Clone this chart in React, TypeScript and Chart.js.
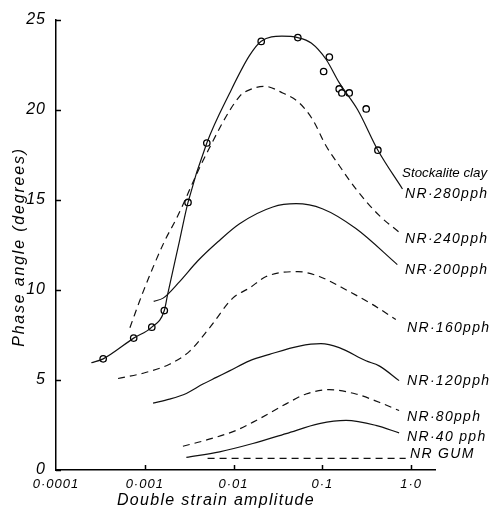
import React, { useEffect, useRef } from "react";
import { Chart, registerables } from "chart.js";

Chart.register(...registerables);

// Axis ticks
const xTickValues = [0.0001, 0.001, 0.01, 0.1, 1];
const xTickLabels = ["0·0001", "0·001", "0·01", "0·1", "1·0"];
const yTickValues = [0, 5, 10, 15, 20, 25];

// Stockalite clay measured points
const clayPointX = [0.00034, 0.00075, 0.0012, 0.00166, 0.00307, 0.005, 0.0205, 0.053, 0.12, 0.1035, 0.155, 0.166, 0.201, 0.312, 0.423];
const clayPointY = [6.17, 7.32, 7.93, 8.85, 14.85, 18.15, 23.79, 24.0, 22.92, 22.12, 21.15, 20.93, 20.93, 20.04, 17.75];

// Stockalite clay NR 280 pph curve (solid)
const clayLineX = [0.00025, 0.00034, 0.00075, 0.0012, 0.00166, 0.00181, 0.00247, 0.00307, 0.005, 0.009, 0.0151, 0.0205, 0.035, 0.053, 0.075, 0.11, 0.155, 0.25, 0.423, 0.8];
const clayLineY = [5.95, 6.17, 7.32, 7.93, 8.85, 9.75, 12.75, 14.85, 18.15, 20.9, 23.0, 23.8, 24.08, 24.0, 23.7, 22.8, 21.5, 20.0, 17.75, 15.6];

// NR 240 pph (dashed)
const nr240X = [0.00068, 0.00096, 0.00166, 0.00227, 0.00472, 0.0117, 0.0151, 0.0223, 0.0358, 0.0552, 0.0778, 0.11, 0.155, 0.239, 0.437, 0.733];
const nr240Y = [7.9, 9.9, 12.67, 13.95, 17.35, 20.74, 21.1, 21.3, 20.93, 20.37, 19.45, 18.0, 16.9, 15.6, 14.13, 13.2];

// NR 200 pph (solid)
const nr200X = [0.00126, 0.00161, 0.00247, 0.00394, 0.00667, 0.0117, 0.0277, 0.0506, 0.1, 0.239, 0.7];
const nr200Y = [9.36, 9.54, 10.46, 11.6, 12.67, 13.67, 14.6, 14.78, 14.5, 13.4, 11.4];

// NR 160 pph (dashed)
const nr160X = [0.0005, 0.001, 0.0019, 0.00321, 0.00537, 0.0098, 0.0151, 0.0233, 0.0529, 0.0925, 0.2, 0.37, 0.673];
const nr160Y = [5.08, 5.4, 5.87, 6.6, 7.89, 9.54, 10.1, 10.74, 11.01, 10.74, 9.91, 9.18, 8.35];

// NR 120 pph (solid)
const nr120X = [0.00124, 0.0019, 0.00294, 0.00452, 0.0064, 0.009, 0.0151, 0.0254, 0.0552, 0.0966, 0.155, 0.31, 0.437, 0.733];
const nr120Y = [3.71, 3.93, 4.25, 4.77, 5.14, 5.5, 6.06, 6.42, 6.88, 7.01, 6.79, 6.06, 5.78, 4.96];

// NR 80 pph (dashed)
const nr80X = [0.00269, 0.00452, 0.0107, 0.018, 0.0391, 0.0656, 0.12, 0.239, 0.437, 0.733];
const nr80Y = [1.32, 1.61, 2.2, 2.75, 3.67, 4.22, 4.46, 4.22, 3.76, 3.3];

// NR 40 pph (solid)
const nr40X = [0.00294, 0.00696, 0.0165, 0.0391, 0.0925, 0.185, 0.4, 0.733];
const nr40Y = [0.7, 1.01, 1.47, 2.02, 2.57, 2.75, 2.48, 2.06];

// NR GUM (dashed)
const gumX = [0.0051, 0.87];
const gumY = [0.64, 0.64];

// Curve labels (y anchors in degrees)
const curveLabels = ["Stockalite clay", "NR·280pph", "NR·240pph", "NR·200pph", "NR·160pph", "NR·120pph", "NR·80pph", "NR·40 pph", "NR GUM"];
const curveLabelY = [16.48, 15.33, 12.81, 11.1, 7.89, 4.92, 2.94, 1.83, 0.88];

const xTitle = "Double strain amplitude";
const yTitle = "Phase angle (degrees)";

const FONT = '"Liberation Sans", Arial, sans-serif';

function pts(xs: number[], ys: number[]) {
  return xs.map((x, i) => ({ x, y: ys[i] }));
}

function curve(xs: number[], ys: number[], dashed: boolean) {
  return {
    data: pts(xs, ys),
    borderColor: "#111",
    borderWidth: 1.2,
    borderDash: dashed ? [7, 5] : [],
    pointRadius: 0,
    cubicInterpolationMode: "monotone" as const,
    fill: false,
  };
}

const decorPlugin = {
  id: "decor",
  beforeDraw(chart: any) {
    const ctx = chart.ctx;
    ctx.save();
    ctx.fillStyle = "#fff";
    ctx.fillRect(0, 0, chart.width, chart.height);
    ctx.restore();
    ctx.letterSpacing = "1px";
  },
  afterDraw(chart: any) {
    const { ctx, chartArea, scales } = chart;
    const xs = scales.x;
    const ys = scales.y;
    ctx.save();
    ctx.strokeStyle = "#000";
    ctx.lineWidth = 1.5;
    ctx.setLineDash([]);
    ctx.beginPath();
    for (const v of yTickValues) {
      const py = Math.round(ys.getPixelForValue(v)) + 0.5;
      ctx.moveTo(chartArea.left, py);
      ctx.lineTo(chartArea.left + 5, py);
    }
    for (const v of xTickValues.slice(1)) {
      const px = Math.round(xs.getPixelForValue(v)) + 0.5;
      ctx.moveTo(px, chartArea.bottom);
      ctx.lineTo(px, chartArea.bottom - 5);
    }
    ctx.stroke();

    ctx.fillStyle = "#000";
    ctx.textBaseline = "middle";
    ctx.textAlign = "left";
    const lx = xs.getPixelForValue(1) - 6;
    curveLabels.forEach((t, i) => {
      ctx.font = i === 0 ? `italic 13.3px ${FONT}` : `italic 14px ${FONT}`;
      ctx.letterSpacing = i === 0 ? "0px" : "1.3px";
      const dx = i === 0 ? -3 : i === curveLabels.length - 1 ? 5 : i >= 4 ? 2 : 0;
      ctx.fillText(t, lx + dx, ys.getPixelForValue(curveLabelY[i]));
    });

    ctx.font = `italic 16px ${FONT}`;
    ctx.letterSpacing = "1.3px";
    ctx.textAlign = "center";
    ctx.fillText(xTitle, 216, 501);

    ctx.translate(20, 247);
    ctx.rotate(-Math.PI / 2);
    ctx.letterSpacing = "1.8px";
    ctx.fillText(yTitle, 0, 0);
    ctx.restore();
  },
};

export default function App() {
  const canvasRef = useRef<HTMLCanvasElement | null>(null);

  useEffect(() => {
    document.body.style.margin = "0";
    const canvas = canvasRef.current;
    if (!canvas) return;
    const chart = new Chart(canvas, {
      type: "line",
      data: {
        datasets: [
          curve(clayLineX, clayLineY, false),
          curve(nr240X, nr240Y, true),
          curve(nr200X, nr200Y, false),
          curve(nr160X, nr160Y, true),
          curve(nr120X, nr120Y, false),
          curve(nr80X, nr80Y, true),
          curve(nr40X, nr40Y, false),
          curve(gumX, gumY, true),
          {
            data: pts(clayPointX, clayPointY),
            showLine: false,
            pointRadius: 3.2,
            pointBackgroundColor: "#fff",
            pointBorderColor: "#000",
            pointBorderWidth: 1.3,
          } as any,
        ],
      },
      options: {
        responsive: false,
        animation: false,
        devicePixelRatio: 1,
        layout: { padding: { top: 16, right: 55, left: 0, bottom: 0 } },
        plugins: {
          legend: { display: false },
          tooltip: { enabled: false },
        },
        scales: {
          x: {
            type: "logarithmic",
            min: 0.0001,
            max: 1.86,
            afterBuildTicks: (s: any) => {
              s.ticks = xTickValues.map((v) => ({ value: v }));
            },
            afterFit: (s: any) => {
              s.height = 40;
            },
            grid: { display: false, drawTicks: false },
            border: { display: true, color: "#000", width: 1.5 },
            ticks: {
              autoSkip: false,
              maxRotation: 0,
              padding: 7,
              color: "#000",
              font: { family: FONT, size: 13, style: "italic" },
              callback: (_v: any, i: number) => xTickLabels[i],
            },
          },
          y: {
            type: "linear",
            min: 0,
            max: 25,
            afterBuildTicks: (s: any) => {
              s.ticks = yTickValues.map((v) => ({ value: v }));
            },
            afterFit: (s: any) => {
              s.width = 56;
            },
            grid: { display: false, drawTicks: false },
            border: { display: true, color: "#000", width: 1.5 },
            ticks: {
              padding: 10,
              color: "#000",
              font: { family: FONT, size: 16, style: "italic" },
              callback: (v: any) => String(v),
            },
          },
        },
      },
      plugins: [decorPlugin],
    });
    return () => chart.destroy();
  }, []);

  return (
    <div style={{ width: 490, height: 510 }}>
      <canvas ref={canvasRef} width={490} height={510} style={{ display: "block" }} />
    </div>
  );
}
